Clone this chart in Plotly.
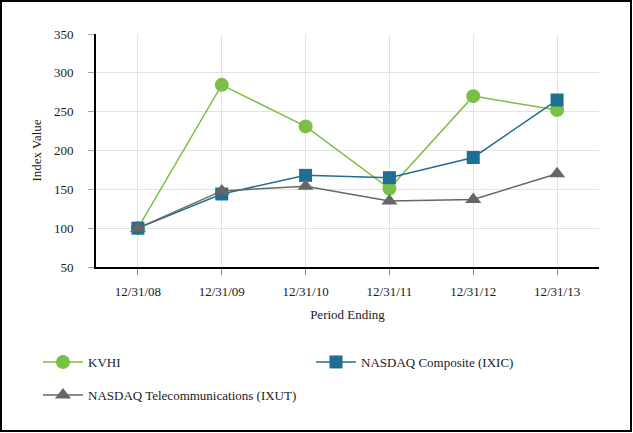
import plotly.graph_objects as go

periods = ["12/31/08", "12/31/09", "12/31/10", "12/31/11", "12/31/12", "12/31/13"]
kvhi = [100, 284.5, 231, 151, 270, 252]
ixic = [100, 144, 168, 165, 191, 265]
ixut = [100, 148, 154, 135, 137, 170]

W, H = 633, 433
ML, MR, MT, MB = 96, 34, 34, 166
PW, PH = W - ML - MR, H - MT - MB

font = dict(family="Liberation Serif", size=13, color="#1a1a1a")

fig = go.Figure()
fig.add_trace(go.Scatter(x=periods, y=kvhi, name="KVHI", mode="lines+markers",
                         line=dict(color="#7BC044", width=1.5),
                         marker=dict(symbol="circle", size=14, color="#7BC044"),
                         legend="legend"))
fig.add_trace(go.Scatter(x=periods, y=ixic, name="NASDAQ Composite (IXIC)", mode="lines+markers",
                         line=dict(color="#1F6E93", width=1.5),
                         marker=dict(symbol="square", size=13, color="#1F6E93"),
                         legend="legend"))
fig.add_trace(go.Scatter(x=periods, y=ixut, name="NASDAQ Telecommunications (IXUT)", mode="lines+markers",
                         line=dict(color="#666666", width=1.5),
                         marker=dict(symbol="triangle-up", size=14, color="#666666"),
                         legend="legend2"))

def px_x(px):
    return (px - ML) / PW

def px_y(py):
    return (MT + PH - py) / PH

leg_common = dict(orientation="h", xanchor="left", yanchor="middle",
                  entrywidth=218, entrywidthmode="pixels",
                  traceorder="normal", font=font, itemwidth=40,
                  bgcolor="rgba(0,0,0,0)")

fig.update_layout(
    width=W, height=H,
    margin=dict(l=ML, r=MR, t=MT, b=MB),
    paper_bgcolor="white", plot_bgcolor="white",
    font=font,
    showlegend=True,
    legend=dict(x=px_x(38), y=px_y(362), **leg_common),
    legend2=dict(x=px_x(38), y=px_y(395), **leg_common),
    xaxis=dict(type="category", range=[-0.5, 5.5],
               showgrid=True, gridcolor="#e3e3e3", gridwidth=1,
               showline=True, linecolor="black", linewidth=2,
               ticks="outside", ticklen=6, tickcolor="#888888",
               ticklabelstandoff=5, tickfont=font,
               title=dict(text="Period Ending", standoff=12, font=font),
               zeroline=False),
    yaxis=dict(range=[50, 350], dtick=50, tick0=50,
               showgrid=True, gridcolor="#e3e3e3", gridwidth=1,
               showline=True, linecolor="black", linewidth=2,
               ticks="outside", ticklen=6, tickcolor="#aaaaaa",
               ticklabelstandoff=12, tickfont=font,
               title=dict(text="Index Value", standoff=9, font=font),
               zeroline=False),
    shapes=[dict(type="rect", xref="paper", yref="paper",
                 x0=px_x(1), x1=px_x(631),
                 y0=px_y(431), y1=px_y(1),
                 line=dict(color="black", width=2), fillcolor="rgba(0,0,0,0)",
                 layer="above")],
)

fig.write_html("out.html", config={"displayModeBar": False},
               post_script="document.body.style.margin='0';")
